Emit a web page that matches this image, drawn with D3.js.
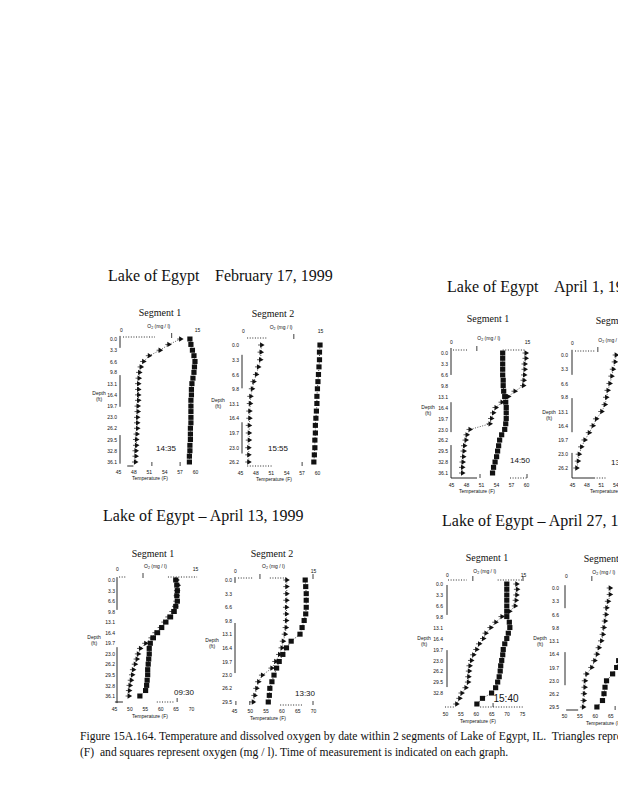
<!DOCTYPE html>
<html><head><meta charset="utf-8">
<script src="https://cdn.jsdelivr.net/npm/d3@7/dist/d3.min.js"></script>
<style>body{margin:0;background:#fff}svg{display:block}</style>
</head><body>
<svg id="c" width="618" height="800"></svg>
<script>
// ---------------- DATA ----------------
const depthPts36 = [0.0,1.6,3.3,4.9,6.6,8.2,9.8,11.5,13.1,14.8,16.4,18.0,19.7,21.3,23.0,24.6,26.2,27.9,29.5,31.2,32.8,34.4,36.1];
const depthPts29 = [0.0,1.6,3.3,4.9,6.6,8.2,9.8,11.5,13.1,14.8,16.4,18.0,19.7,21.3,23.0,24.6,26.2,27.9,29.5];
const depthPts26 = [0.0,1.6,3.3,4.9,6.6,8.2,9.8,11.5,13.1,14.8,16.4,18.0,19.7,21.3,23.0,24.6,26.2];

const depthLabels36 = ["0.0","3.3","6.6","9.8","13.1","16.4","19.7","23.0","26.2","29.5","32.8","36.1"];
const depthLabels32 = ["0.0","3.3","6.6","9.8","13.1","16.4","19.7","23.0","26.2","29.5","32.8"];
const depthLabels29 = ["0.0","3.3","6.6","9.8","13.1","16.4","19.7","23.0","26.2","29.5"];
const depthLabels26 = ["0.0","3.3","6.6","9.8","13.1","16.4","19.7","23.0","26.2"];

const tempTicks45to60 = [45,48,51,54,57,60];
const tempTicks45to70 = [45,50,55,60,65,70];
const tempTicks50to75 = [50,55,60,65,70,75];
const oxygenTicks = [0,15];

const titlesLeft = ["Lake of Egypt","Lake of Egypt","Lake of Egypt \u2013 April 13, 1999","Lake of Egypt \u2013 April 27, 1999"];
const titlesDate = ["February 17, 1999","April 1, 1999","",""];
const segmentNames = ["Segment 1","Segment 2"];
const measureTimes = ["14:35","15:55","14:50","13:15","09:30","13:30","15:40",""];

const febSeg1Temp = [57.2,54.9,53.2,51.1,50.0,49.5,49.2,49.1,49.0,49.0,49.0,49.0,48.9,48.9,48.8,48.8,48.8,48.7,48.6,48.6,48.5,48.5,48.4];
const febSeg1O2   = [13.6,13.8,14.1,14.4,14.6,14.5,14.4,14.2,14.0,13.9,13.9,13.8,13.8,13.8,13.8,13.8,13.7,13.7,13.7,13.6,13.6,13.5,13.5];
const febSeg2Temp = [49.2,49.1,49.0,48.6,48.2,47.7,47.4,47.1,47.0,46.9,46.9,46.8,46.8,46.8,46.7,46.7,46.7];
const febSeg2O2   = [15.0,14.9,14.9,14.8,14.7,14.6,14.5,14.4,14.4,14.3,14.2,14.1,14.1,14.0,14.0,13.9,13.8];
const apr1Seg1Temp = [60.0,60.0,59.8,59.8,59.7,59.6,59.5,57.8,56.5,55.2,54.0,53.5,53.1,52.8,48.8,48.2,48.0,47.7,47.6,47.5,47.4,47.3,47.3];
const apr1Seg1O2   = [10.2,10.2,10.2,10.2,10.2,10.3,10.3,10.4,10.6,10.8,10.9,10.9,10.9,10.8,10.6,10.0,9.6,9.4,9.2,9.0,8.7,8.4,8.2];
const apr1Seg2Temp = [54.2,54.0,53.6,53.3,52.9,52.5,52.2,51.9,51.2,50.1,49.4,48.6,47.7,47.0,46.5,46.3,46.0];
const apr1Seg2O2   = [10.8,10.8,10.7,10.7,10.6,10.6,10.5,10.4,10.3,10.2,10.1,10.0,10.0,9.9,9.9,9.8,9.8];
const apr13Seg1Temp = [65.4,65.8,65.6,65.5,65.4,65.0,64.1,62.8,61.5,60.3,58.6,57.3,55.3,53.6,52.9,52.5,51.9,51.3,51.0,50.6,50.2,50.0,49.9];
const apr13Seg1O2   = [11.3,11.5,11.6,11.5,11.6,11.3,11.0,10.3,9.4,8.6,7.8,7.0,6.4,6.2,6.2,6.1,6.0,5.9,5.9,5.8,5.7,5.5,4.4];
const apr13Seg2Temp = [61.7,61.7,61.7,61.7,61.6,61.6,61.6,61.5,61.2,60.6,60.2,59.4,58.2,57.0,54.0,52.8,52.2,51.6,51.1];
const apr13Seg2O2   = [13.5,13.6,13.7,13.7,13.7,13.6,13.3,12.9,12.5,10.8,9.9,9.2,8.5,8.0,7.5,7.1,6.7,6.6,6.4];
const apr27Seg1Temp = [73.3,73.5,73.3,73.1,72.8,71.0,68.5,66.5,64.9,63.3,62.5,61.2,60.3,59.3,58.6,58.1,57.9,57.7,57.6,56.8,55.5,54.8,53.8];
const apr27Seg1O2   = [11.8,11.8,11.8,11.8,11.8,11.8,11.8,12.3,12.4,12.1,11.8,11.4,11.1,11.0,10.8,10.6,10.5,10.3,10.0,9.6,8.8,7.0,5.9];
const apr27Seg2Temp = [65.0,65.0,64.4,63.9,63.7,63.4,63.0,62.7,62.2,61.4,60.8,60.0,59.0,57.4,56.9,56.8,56.6,56.5,56.3];
const apr27Seg2O2   = [12.0,12.0,12.0,12.0,11.9,11.9,11.8,11.7,11.5,11.2,10.8,10.4,10.0,9.2,8.0,7.7,7.5,7.2,6.1];

const captionLines = [
  "Figure 15A.164. Temperature and dissolved oxygen by date within 2 segments of Lake of Egypt, IL.  Triangles represent temperature",
  "(F)  and squares represent oxygen (mg / l). Time of measurement is indicated on each graph."
];

// ---------------- LAYOUT ----------------
const SERIF = "'Liberation Serif','Times New Roman',serif";
const SANS = "'Liberation Sans',Arial,sans-serif";
const INK = "#111";
const svg = d3.select("#c");
svg.append("rect").attr("width",618).attr("height",800).attr("fill","#fff");

const titlePos = [
  {x:108, x2:215, y:281},
  {x:447, x2:554, y:292},
  {x:103, x2:0, y:521},
  {x:442, x2:0, y:526}
];
titlesLeft.forEach((t,i)=>{
  const p = titlePos[i];
  svg.append("text").attr("x",p.x).attr("y",p.y).attr("font-family",SERIF).attr("font-size",16).attr("fill",INK).text(t);
  if (titlesDate[i]) svg.append("text").attr("x",p.x2).attr("y",p.y).attr("font-family",SERIF).attr("font-size",16).attr("fill",INK).text(titlesDate[i]);
});

const panels = [
  {seg:0, cx:160, ty:312, dMax:36.1, yr:[339,462], ax:120, lx:117, tDom:[45,60], tr:[118,195], or:[121,197],
   topY:330, o2Y:326, topLineY:337, botLineY:466, botY:472, tlx:150, tly:478, tmx:166, tmy:448, tms:8,
   dtx:99, dty:393, segs:[[-0.9,2.6],[10.6,19.9],[28.2,36.6]], topDots:[[0.4,6.7]], topTicks:[10],
   botSolid:[[46.8,48.0]], botDots:[], botTicks:[51.6,57.1]},
  {seg:1, cx:273, ty:313, dMax:26.2, yr:[345,462], ax:242, lx:239, tDom:[45,60], tr:[240,317], or:[243,320],
   topY:331, o2Y:327, topLineY:338, botLineY:466, botY:473, tlx:274, tly:479, tmx:278, tmy:448, tms:8,
   dtx:218, dty:400, segs:[[2.2,9.7],[17.3,24.3]], topDots:[[0.8,4.7]], topTicks:[9.9],
   botSolid:[], botDots:[[46.4,51.2]], botTicks:[57.1]},
  {seg:0, cx:488, ty:318, dMax:36.1, yr:[353,473], ax:451, lx:448, tDom:[45,60], tr:[451,526], or:[451,527],
   topY:342, o2Y:338, topLineY:350, botLineY:478, botY:485, tlx:477, tly:491, tmx:520, tmy:460, tms:8,
   dtx:428, dty:407, segs:[[-1.5,6.6],[14.8,23.8],[27.7,37.6]], topDots:[[0.4,3.2],[10.2,14.6]], topTicks:[5.1],
   botSolid:[[45,50.2]], botDots:[[56.8,60.2]], botTicks:[50.8,60.2]},
  {seg:1, cx:617, ty:320, dMax:26.2, yr:[355,468], ax:572, lx:568, tDom:[45,60], tr:[572,644], or:[572,648],
   topY:343, o2Y:340, topLineY:351, botLineY:478, botY:485, tlx:608, tly:491, tmx:621, tmy:462, tms:8,
   dtx:549, dty:412, segs:[[-1.2,4.6],[10.0,17.9],[22.7,28.5]], topDots:[[0.6,4.5]], topTicks:[5.1],
   botSolid:[[45,49.6]], botDots:[[49.6,52]], botTicks:[]},
  {seg:0, cx:153, ty:553, dMax:36.1, yr:[580,696], ax:117, lx:115, tDom:[45,70], tr:[114,191], or:[117,195],
   topY:569, o2Y:566, topLineY:577, botLineY:702, botY:709, tlx:150, tly:716, tmx:184, tmy:692, tms:8,
   dtx:94, dty:637, segs:[[-0.9,9.3],[20.9,38.3]], topDots:[[0.4,1.9],[9.8,15.4]], topTicks:[5],
   botSolid:[[45.3,47.9]], botDots:[[58.9,64.8]], botTicks:[65.5]},
  {seg:1, cx:272, ty:553, dMax:29.5, yr:[580,702], ax:235, lx:232, tDom:[45,70], tr:[234,313], or:[235,313],
   topY:571, o2Y:566, topLineY:578, botLineY:705, botY:711, tlx:268, tly:718, tmx:305, tmy:693, tms:8,
   dtx:212, dty:640, segs:[[-0.7,0.7],[10.4,22.5]], topDots:[[0.6,3.5],[6.7,10]], topTicks:[4.8,15],
   botSolid:[], botDots:[[59.6,66.8]], botTicks:[45.6,50,70]},
  {seg:0, cx:487, ty:557, dMax:36.1, yr:[584,704], ax:447, lx:443, tDom:[50,75], tr:[445,522], or:[447,523],
   topY:575, o2Y:571, topLineY:580, botLineY:707, botY:714, tlx:478, tly:721, tmx:506, tmy:698, tms:10,
   dtx:424, dty:638, segs:[[0.3,9.3],[19.9,31.0]], topDots:[[0.2,3.9],[10,14.8]], topTicks:[5.1,15],
   botSolid:[], botDots:[[50,53.2],[61.4,75.3]], botTicks:[65.6]},
  {seg:1, cx:605, ty:558, dMax:29.5, yr:[588,707], ax:565, lx:559, tDom:[50,75], tr:[564,641], or:[566,642],
   topY:576, o2Y:572, topLineY:580, botLineY:710, botY:716, tlx:604, tly:723, tmx:630, tmy:698, tms:8,
   dtx:540, dty:638, segs:[[-0.7,5.0],[15.9,24.1]], topDots:[], topTicks:[5.1],
   botSolid:[[50.7,54.6]], botDots:[], botTicks:[66.6]}
];

const panelData = [
  {temp:febSeg1Temp, o2:febSeg1O2, depth:depthPts36, labels:depthLabels36, ticks:tempTicks45to60},
  {temp:febSeg2Temp, o2:febSeg2O2, depth:depthPts26, labels:depthLabels26, ticks:tempTicks45to60},
  {temp:apr1Seg1Temp, o2:apr1Seg1O2, depth:depthPts36, labels:depthLabels36, ticks:tempTicks45to60},
  {temp:apr1Seg2Temp, o2:apr1Seg2O2, depth:depthPts26, labels:depthLabels26, ticks:tempTicks45to60},
  {temp:apr13Seg1Temp, o2:apr13Seg1O2, depth:depthPts36, labels:depthLabels36, ticks:tempTicks45to70},
  {temp:apr13Seg2Temp, o2:apr13Seg2O2, depth:depthPts29, labels:depthLabels29, ticks:tempTicks45to70},
  {temp:apr27Seg1Temp, o2:apr27Seg1O2, depth:depthPts36, labels:depthLabels32, ticks:tempTicks50to75},
  {temp:apr27Seg2Temp, o2:apr27Seg2O2, depth:depthPts29, labels:depthLabels29, ticks:tempTicks50to75}
];

const FS = 5;
function drawPanel(p, d, timeLabel) {
  const g = svg.append("g");
  const y = d3.scaleLinear().domain([0, p.dMax]).range(p.yr);
  const xT = d3.scaleLinear().domain(p.tDom).range(p.tr);
  const xO = d3.scaleLinear().domain([0, 15]).range(p.or);

  g.append("text").attr("x",p.cx).attr("y",p.ty).attr("dy","0.35em").attr("text-anchor","middle")
    .attr("font-family",SERIF).attr("font-size",10).attr("fill",INK).text(segmentNames[p.seg]);

  p.segs.forEach(s => g.append("line").attr("x1",p.ax).attr("x2",p.ax).attr("y1",y(s[0])).attr("y2",y(s[1]))
    .attr("stroke",INK).attr("stroke-width",0.9));

  const ya = g.append("g").attr("transform",`translate(${p.ax},0)`)
    .call(d3.axisLeft(y).tickValues(d.labels.map(Number)).tickSize(0).tickPadding(p.ax - p.lx).tickFormat(d3.format(".1f")));
  ya.select(".domain").remove();
  ya.selectAll("text").attr("font-family",SANS).attr("font-size",FS).attr("fill",INK);

  g.append("text").attr("x",p.dtx).attr("y",p.dty).attr("text-anchor","middle").attr("dy","0.35em")
    .attr("font-family",SANS).attr("font-size",FS).attr("fill",INK).text("Depth");
  g.append("text").attr("x",p.dtx).attr("y",p.dty+6).attr("text-anchor","middle").attr("dy","0.35em")
    .attr("font-family",SANS).attr("font-size",FS).attr("fill",INK).text("(ft)");

  const oa = g.append("g").attr("transform",`translate(0,${p.topY})`)
    .call(d3.axisTop(xO).tickValues(oxygenTicks).tickSize(0).tickPadding(0).tickFormat(d3.format("d")));
  oa.select(".domain").remove();
  oa.selectAll("text").attr("y",0).attr("dy","0.35em").attr("font-family",SANS).attr("font-size",FS).attr("fill",INK);
  const o2t = g.append("text").attr("x",xO(5)+1).attr("y",p.o2Y).attr("dy","0.35em")
    .attr("font-family",SANS).attr("font-size",FS).attr("fill",INK);
  o2t.append("tspan").text("O");
  o2t.append("tspan").attr("font-size",3.6).attr("dy","1.4").text("2");
  o2t.append("tspan").attr("dy","-1.4").text(" (mg / l)");
  p.topDots.forEach(s => g.append("line").attr("x1",xO(s[0])).attr("x2",xO(s[1])).attr("y1",p.topLineY).attr("y2",p.topLineY)
    .attr("stroke",INK).attr("stroke-width",0.9).attr("stroke-dasharray","1,1.6"));
  p.topTicks.forEach(v => g.append("line").attr("x1",xO(v)).attr("x2",xO(v)).attr("y1",p.topLineY-4).attr("y2",p.topLineY+1)
    .attr("stroke",INK).attr("stroke-width",0.8));

  p.botSolid.forEach(s => g.append("line").attr("x1",xT(s[0])).attr("x2",xT(s[1])).attr("y1",p.botLineY).attr("y2",p.botLineY)
    .attr("stroke",INK).attr("stroke-width",0.9));
  p.botDots.forEach(s => g.append("line").attr("x1",xT(s[0])).attr("x2",xT(s[1])).attr("y1",p.botLineY).attr("y2",p.botLineY)
    .attr("stroke",INK).attr("stroke-width",0.9).attr("stroke-dasharray","1,1.6"));
  p.botTicks.forEach(v => g.append("line").attr("x1",xT(v)).attr("x2",xT(v)).attr("y1",p.botLineY-4).attr("y2",p.botLineY)
    .attr("stroke",INK).attr("stroke-width",0.8));
  const ta = g.append("g").attr("transform",`translate(0,${p.botY})`)
    .call(d3.axisBottom(xT).tickValues(d.ticks).tickSize(0).tickPadding(0).tickFormat(d3.format("d")));
  ta.select(".domain").remove();
  ta.selectAll("text").attr("y",0).attr("dy","0.35em").attr("font-family",SANS).attr("font-size",FS).attr("fill",INK);
  g.append("text").attr("x",p.tlx).attr("y",p.tly).attr("dy","0.35em").attr("text-anchor","middle")
    .attr("font-family",SANS).attr("font-size",FS).attr("fill",INK).text("Temperature (F)");

  if (timeLabel) g.append("text").attr("x",p.tmx).attr("y",p.tmy).attr("dy","0.35em").attr("text-anchor","middle")
    .attr("font-family",SANS).attr("font-size",p.tms).attr("fill",INK).text(timeLabel);

  // oxygen: squares
  const o2pts = d.o2.map((v,i)=>({v, dep:d.depth[i]}));
  g.append("path").datum(o2pts).attr("fill","none").attr("stroke",INK).attr("stroke-width",0.8)
    .attr("stroke-dasharray","1,1.5").attr("d", d3.line().x(q=>xO(q.v)).y(q=>y(q.dep)));
  g.selectAll(".sq").data(o2pts).join("rect").attr("class","sq")
    .attr("x",q=>xO(q.v)-2.6).attr("y",q=>y(q.dep)-2.5).attr("width",5.2).attr("height",5).attr("fill",INK);

  // temperature: right-pointing triangles
  const tpts = d.temp.map((v,i)=>({v, dep:d.depth[i]}));
  g.append("path").datum(tpts).attr("fill","none").attr("stroke",INK).attr("stroke-width",0.7)
    .attr("stroke-dasharray","1,1.5").attr("d", d3.line().x(q=>xT(q.v)).y(q=>y(q.dep)));
  const tri = d3.symbol().type(d3.symbolTriangle).size(12);
  g.selectAll(".tr").data(tpts).join("path").attr("class","tr")
    .attr("transform",q=>`translate(${xT(q.v)},${y(q.dep)}) rotate(90)`).attr("d",tri).attr("fill",INK);
  g.selectAll(".tl").data(tpts).join("line").attr("class","tl")
    .attr("x1",q=>xT(q.v)-3.5).attr("x2",q=>xT(q.v)).attr("y1",q=>y(q.dep)).attr("y2",q=>y(q.dep))
    .attr("stroke",INK).attr("stroke-width",0.7);
}

panels.forEach((p,i)=>drawPanel(p, panelData[i], measureTimes[i]));

captionLines.forEach((t,i)=>{
  svg.append("text").attr("x",80).attr("y",740+16*i).attr("font-family",SERIF).attr("font-size",11.6)
    .attr("fill",INK).style("white-space","pre").text(t);
});
</script>
</body></html>
